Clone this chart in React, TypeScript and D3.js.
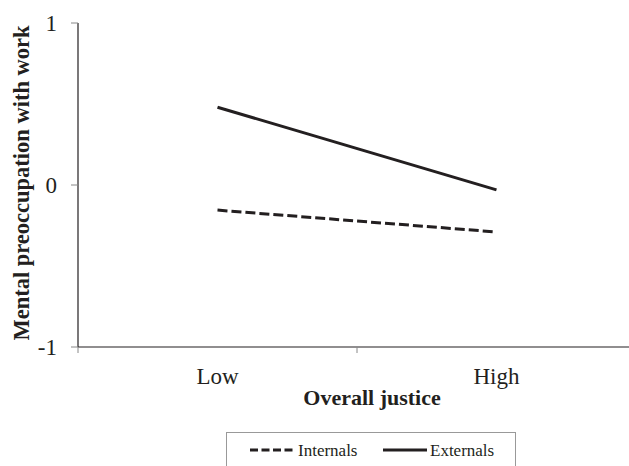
import React from "react";
import * as d3 from "d3";

const categories = ["Low", "High"];
const internals = [-0.155, -0.29];
const externals = [0.48, -0.03];
const yTicks = [-1, 0, 1];
const seriesNames = ["Internals", "Externals"];

const W = 629;
const H = 466;

export default function App() {
  const x = d3.scaleBand<string>().domain(categories).range([78, 636]).padding(0);
  const y = d3.scaleLinear().domain([-1, 1]).range([347, 23]);
  const cx = (c: string) => (x(c) as number) + x.bandwidth() / 2;
  const line = d3
    .line<[string, number]>()
    .x((d) => cx(d[0]))
    .y((d) => y(d[1]));
  const intData = categories.map((c, i) => [c, internals[i]] as [string, number]);
  const extData = categories.map((c, i) => [c, externals[i]] as [string, number]);
  const boundaries = [...categories.map((c) => x(c) as number), 636];
  const font = "'Liberation Serif', 'Times New Roman', serif";
  const ink = "#231f20";

  return (
    <div style={{ position: "absolute", left: 0, top: 0 }}>
      <svg width={W} height={H} style={{ display: "block", background: "#fff" }} fontFamily={font}>
        {/* y axis */}
        <line x1={78} x2={78} y1={y(1)} y2={y(-1)} stroke={ink} strokeWidth={1.2} />
        {yTicks.map((t) => (
          <g key={t}>
            <line x1={71} x2={78} y1={y(t)} y2={y(t)} stroke="#888" strokeWidth={1} />
            <text x={57} y={y(t)} dy="0.35em" textAnchor="end" fontSize={23} fill={ink}>
              {t}
            </text>
          </g>
        ))}
        {/* x axis */}
        <line x1={78} x2={W} y1={y(-1)} y2={y(-1)} stroke={ink} strokeWidth={1.2} />
        {boundaries.map((b, i) => (
          <line key={i} x1={b} x2={b} y1={y(-1)} y2={y(-1) + 6} stroke="#888" strokeWidth={1} />
        ))}
        {categories.map((c) => (
          <text key={c} x={cx(c)} y={384} textAnchor="middle" fontSize={23} fill={ink}>
            {c}
          </text>
        ))}
        <text x={372} y={405} textAnchor="middle" fontSize={22} fontWeight="bold" fill={ink}>
          Overall justice
        </text>
        <text
          transform={`translate(29,${183}) rotate(-90)`}
          textAnchor="middle"
          fontSize={22.5}
          fontWeight="bold"
          fill={ink}
        >
          Mental preoccupation with work
        </text>
        {/* series */}
        <path d={line(intData) || ""} fill="none" stroke={ink} strokeWidth={3} strokeDasharray="10,4" />
        <path d={line(extData) || ""} fill="none" stroke={ink} strokeWidth={3} />
        {/* legend */}
        <rect x={226.5} y={432.5} width={289} height={40} fill="#fff" stroke="#999" strokeWidth={1} />
        <line x1={250} x2={295} y1={450} y2={450} stroke={ink} strokeWidth={3} strokeDasharray="8,3.5" />
        <text x={298} y={456} fontSize={17} fill={ink}>
          {seriesNames[0]}
        </text>
        <line x1={383} x2={427} y1={450} y2={450} stroke={ink} strokeWidth={3} />
        <text x={430} y={456} fontSize={17} fill={ink}>
          {seriesNames[1]}
        </text>
      </svg>
    </div>
  );
}
